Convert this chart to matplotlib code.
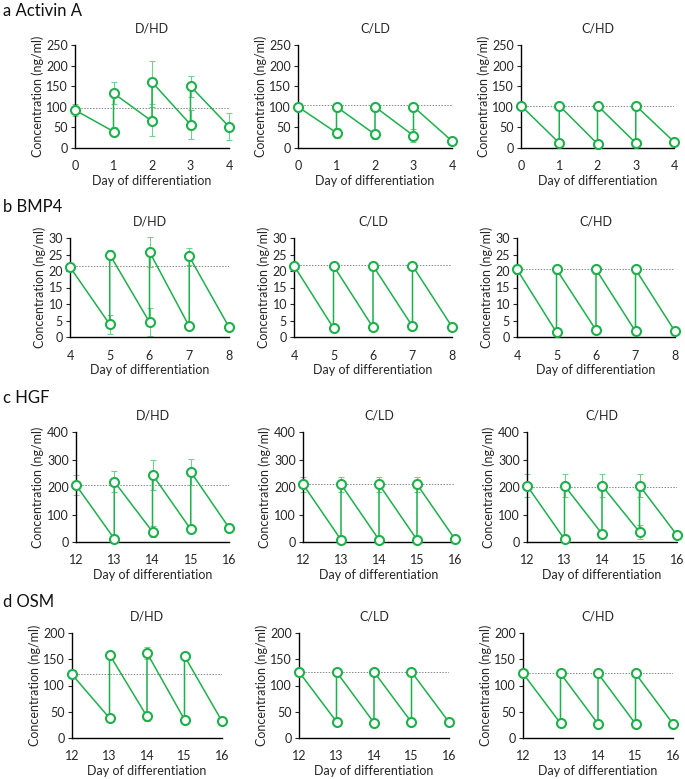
import matplotlib
matplotlib.use("Agg")
import matplotlib.pyplot as plt
import numpy as np

plt.rcParams['font.family'] = ['Lato', 'DejaVu Sans']

# ---- data ----
conditions = ["D/HD", "C/LD", "C/HD"]
factors = ["Activin A", "BMP4", "HGF", "OSM"]
letters = ["a", "b", "c", "d"]
start_days = [0, 4, 12, 12]
y_max = [250, 30, 400, 200]
y_step = [50, 5, 100, 50]

# sequence per panel: [h0, l1, h1, l2, h2, l3, h3, l4]
activin_vals = [[92, 40, 133, 65, 160, 57, 150, 52],
                [100, 37, 100, 33, 100, 30, 100, 17],
                [103, 12, 103, 10, 103, 12, 103, 15]]
activin_err = [[15, 10, 27, 35, 52, 35, 25, 33],
               [8, 12, 10, 10, 10, 15, 10, 5],
               [3, 3, 3, 3, 3, 3, 3, 3]]
activin_ref = [97, 104, 101]

bmp4_vals = [[21.2, 3.8, 25.0, 4.5, 25.8, 3.2, 24.4, 3.0],
             [21.6, 2.7, 21.6, 2.9, 21.6, 3.2, 21.6, 3.1],
             [20.5, 1.4, 20.5, 2.1, 20.5, 1.7, 20.5, 1.7]]
bmp4_err = [[1.0, 3.0, 1.5, 4.3, 4.5, 0.5, 2.5, 0.5],
            [1.0, 0.5, 1.0, 0.5, 1.0, 0.5, 1.0, 0.5],
            [1.3, 0.3, 1.3, 0.3, 1.3, 0.3, 1.3, 0.3]]
bmp4_ref = [21.5, 21.8, 20.6]

hgf_vals = [[207, 12, 220, 37, 245, 46, 255, 52],
            [210, 8, 210, 8, 210, 8, 210, 10],
            [205, 10, 205, 30, 205, 36, 205, 25]]
hgf_err = [[35, 5, 38, 20, 55, 10, 47, 15],
           [28, 3, 28, 3, 28, 3, 28, 3],
           [42, 5, 42, 10, 42, 25, 42, 8]]
hgf_ref = [207, 212, 200]

osm_vals = [[121, 38, 159, 41, 162, 35, 156, 32],
            [126, 31, 126, 29, 126, 30, 126, 30],
            [123, 28, 123, 27, 123, 27, 123, 27]]
osm_err = [[3, 3, 4, 8, 12, 3, 4, 3],
           [2, 2, 2, 2, 2, 2, 2, 2],
           [2, 2, 2, 2, 2, 2, 2, 2]]
osm_ref = [121, 125, 124]

all_vals = [activin_vals, bmp4_vals, hgf_vals, osm_vals]
all_err = [activin_err, bmp4_err, hgf_err, osm_err]
all_ref = [activin_ref, bmp4_ref, hgf_ref, osm_ref]

# ---- layout (pixels) ----
W, H = 685, 779
row_tb = [(45, 148), (238, 337), (432, 542), (633, 738)]
col_lr = [[(75, 229), (298, 452), (521, 674)],
          [(70, 229), (294, 452), (517, 675)],
          [(76, 229), (303, 455), (527, 677)],
          [(72, 222), (299, 449), (523, 673)]]
label_y = [11, 207, 398, 602]

green = "#1db04b"
err_green = "#74d08f"
txt = "#262626"

fig = plt.figure(figsize=(W / 100, H / 100), dpi=100)

for r in range(4):
    top, bot = row_tb[r]
    s = start_days[r]
    xs = [s, s + 1, s + 1, s + 2, s + 2, s + 3, s + 3, s + 4]
    fig.text(3 / W, 1 - label_y[r] / H, letters[r] + " " + factors[r],
             fontsize=12, va="center", ha="left", color="#111111")
    for c in range(3):
        l, rr = col_lr[r][c]
        ax = fig.add_axes([l / W, 1 - bot / H, (rr - l) / W, (bot - top) / H])
        vals = all_vals[r][c]
        errs = all_err[r][c]
        ax.errorbar(xs, vals, yerr=errs, fmt="none", ecolor=err_green,
                    elinewidth=0.8, capsize=2, capthick=0.8, zorder=2,
                    clip_on=False)
        ax.plot([s, s + 4], [all_ref[r][c]] * 2, color="#888888",
                linestyle=(0, (1.5, 1.5)), linewidth=0.7, zorder=1)
        ax.plot(xs, vals, color=green, linewidth=1.1, marker="o",
                markersize=6.5, markerfacecolor="white",
                markeredgecolor=green, markeredgewidth=1.5, zorder=3,
                clip_on=False)
        ax.set_xlim(s, s + 4)
        ax.set_ylim(0, y_max[r])
        ax.set_xticks(range(s, s + 5))
        ax.set_yticks(np.arange(0, y_max[r] + 0.001, y_step[r]))
        ax.spines["top"].set_visible(False)
        ax.spines["right"].set_visible(False)
        ax.spines["left"].set_linewidth(1.0)
        ax.spines["bottom"].set_linewidth(1.0)
        ax.tick_params(axis="y", length=3, width=0.8, labelsize=9, pad=2,
                       colors=txt)
        ax.tick_params(axis="x", length=0, labelsize=9, pad=9,
                       colors=txt)
        ax.set_title(conditions[c], fontsize=9, pad=9, color=txt)
        ax.set_xlabel("Day of differentiation", fontsize=9, labelpad=2,
                      color=txt)
        ax.set_ylabel("Concentration (ng/ml)", fontsize=9, labelpad=2,
                      color=txt)

fig.savefig("out.png", dpi=100)
